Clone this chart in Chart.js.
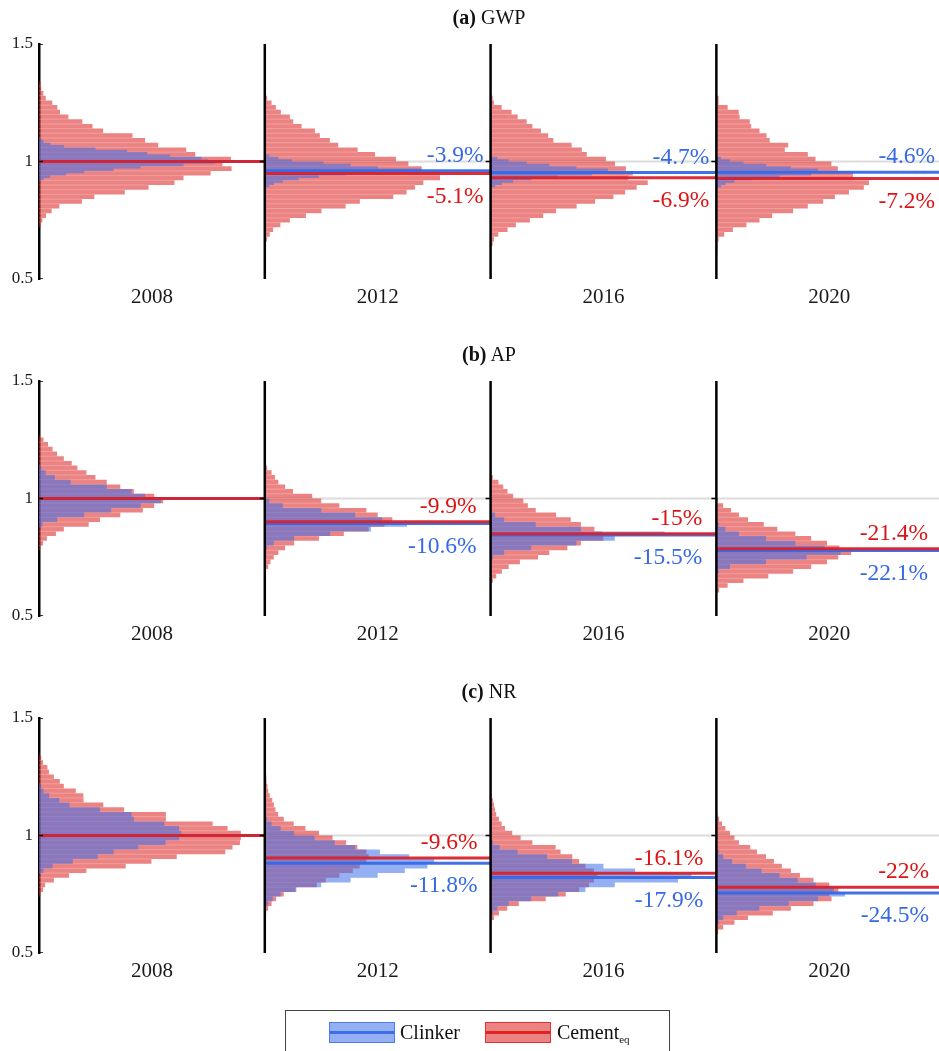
<!DOCTYPE html>
<html>
<head>
<meta charset="utf-8">
<title>Clinker vs cement histograms</title>
<script src="https://cdn.jsdelivr.net/npm/chart.js@4.4.1/dist/chart.umd.min.js"></script>
<style>
  body { margin: 0; background: #fff; font-family: "Liberation Serif", "Times New Roman", serif; color: #111; }
  #page { position: relative; width: 939px; height: 1051px; overflow: hidden; }
  .panel { position: absolute; left: 0; width: 939px; height: 337px; }
  .panel canvas { position: absolute; left: 0; top: 0; }
  .ttl { position: absolute; left: 39px; width: 900px; top: 5px; text-align: center; font-size: 20px; line-height: 24px; }
  #legend { position: absolute; left: 285px; top: 1010px; width: 385px; height: 60px; border: 1px solid #444; box-sizing: border-box; }
  .sw { position: absolute; top: 11px; width: 66px; height: 21px; box-sizing: border-box; }
  .sw i { position: absolute; left: 0; right: 0; top: 8px; height: 3px; }
  .sw-blue { left: 43px; background: rgba(61, 110, 232, 0.55); border: 1px solid rgba(61, 110, 232, 0.8); }
  .sw-blue i { background: rgb(60, 110, 235); }
  .sw-red { left: 199px; background: rgba(220, 30, 30, 0.55); border: 1px solid rgba(220, 30, 30, 0.8); }
  .sw-red i { background: rgb(225, 35, 35); }
  .lbl { position: absolute; top: 9px; font-size: 20px; line-height: 24px; }
  .lbl sub { font-size: 11px; vertical-align: -4px; }
</style>
</head>
<body>
<div id="page">
  <div class="panel" style="top:0px"><canvas id="gwp" width="939" height="337"></canvas><div class="ttl"><b>(a)</b> GWP</div></div>
  <div class="panel" style="top:337px"><canvas id="ap" width="939" height="337"></canvas><div class="ttl"><b>(b)</b> AP</div></div>
  <div class="panel" style="top:674px"><canvas id="nr" width="939" height="337"></canvas><div class="ttl"><b>(c)</b> NR</div></div>
  <div id="legend">
    <span class="sw sw-blue"><i></i></span><span class="lbl" style="left:114px">Clinker</span>
    <span class="sw sw-red"><i></i></span><span class="lbl" style="left:271px">Cement<sub>eq</sub></span>
  </div>
</div>
<script>
(function () {
    "use strict";

    const years = ['2008', '2012', '2016', '2020'];
    const yearPos = [0.5, 1.5, 2.5, 3.5];

    // relative change of the median vs 2008, in %
    const gwpClinkerPct = [0, -3.9, -4.7, -4.6];
    const gwpCementPct = [0, -5.1, -6.9, -7.2];
    const apClinkerPct = [0, -10.6, -15.5, -22.1];
    const apCementPct = [0, -9.9, -15, -21.4];
    const nrClinkerPct = [0, -11.8, -17.9, -24.5];
    const nrCementPct = [0, -9.6, -16.1, -22];

    // histograms: top edge of the first bin, then bar lengths from the top bin downwards
    // (bar length as a share of one year column)
    const gwpCementTop = [1.34, 1.28, 1.28, 1.28];
    const gwpCementHist = [
        [0.008,0.010,0.019,0.030,0.059,0.081,0.093,0.130,0.192,0.237,0.284,0.414,0.470,0.528,0.652,0.692,0.850,0.812,0.853,0.760,0.640,0.600,0.485,0.380,0.245,0.190,0.090,0.056,0.031,0.015,0.008],
        [0.010,0.030,0.049,0.071,0.111,0.126,0.163,0.222,0.244,0.288,0.325,0.411,0.488,0.581,0.636,0.695,0.776,0.776,0.702,0.665,0.628,0.569,0.421,0.358,0.251,0.182,0.111,0.069,0.037,0.022,0.010],
        [0.009,0.015,0.049,0.093,0.120,0.160,0.185,0.223,0.255,0.278,0.359,0.404,0.426,0.511,0.551,0.599,0.630,0.610,0.696,0.647,0.596,0.544,0.463,0.381,0.290,0.233,0.174,0.112,0.075,0.034,0.015,0.009],
        [0.010,0.010,0.050,0.099,0.103,0.148,0.154,0.191,0.222,0.236,0.318,0.303,0.405,0.439,0.509,0.538,0.605,0.605,0.676,0.653,0.587,0.525,0.473,0.405,0.340,0.247,0.191,0.133,0.073,0.035,0.010,0.006,0.005,0.003]
    ];
    const gwpClinkerTop = [1.10, 1.03, 1.02, 1.02];
    const gwpClinkerHist = [
        [0.01,0.02,0.05,0.11,0.25,0.39,0.48,0.58,0.72,0.75,0.78,0.64,0.45,0.33,0.20,0.12,0.05,0.02],
        [0.02,0.06,0.12,0.26,0.38,0.50,0.69,0.52,0.36,0.24,0.15,0.08,0.04,0.02],
        [0.03,0.08,0.16,0.26,0.38,0.52,0.60,0.45,0.30,0.18,0.10,0.05,0.02],
        [0.02,0.06,0.12,0.22,0.33,0.45,0.55,0.42,0.28,0.16,0.08,0.04,0.02]
    ];

    const apCementTop = [1.28, 1.14, 1.10, 1.00];
    const apCementHist = [
        [0.004,0.02,0.04,0.06,0.08,0.11,0.145,0.17,0.21,0.25,0.30,0.36,0.42,0.51,0.55,0.51,0.46,0.36,0.27,0.22,0.11,0.075,0.035,0.018,0.005],
        [0.01,0.03,0.045,0.06,0.09,0.125,0.21,0.25,0.33,0.45,0.50,0.565,0.53,0.46,0.35,0.24,0.13,0.09,0.06,0.04,0.025,0.015],
        [0.01,0.035,0.056,0.075,0.10,0.145,0.165,0.20,0.29,0.355,0.40,0.46,0.495,0.50,0.40,0.34,0.26,0.21,0.13,0.08,0.05,0.025,0.01],
        [0.005,0.03,0.065,0.10,0.14,0.21,0.27,0.35,0.42,0.49,0.545,0.597,0.54,0.49,0.42,0.34,0.23,0.12,0.05,0.012]
    ];
    const apClinkerTop = [1.14, 1.00, 0.94, 0.90];
    const apClinkerHist = [
        [0.01,0.03,0.07,0.14,0.30,0.41,0.47,0.54,0.45,0.32,0.20,0.08,0.015],
        [0.02,0.08,0.25,0.40,0.52,0.63,0.47,0.29,0.13,0.04,0.01],
        [0.02,0.06,0.20,0.40,0.77,0.55,0.38,0.18,0.06,0.01],
        [0.01,0.04,0.10,0.22,0.35,0.48,0.55,0.40,0.22,0.06,0.01]
    ];

    const nrCementTop = [1.36, 1.26, 1.18, 1.10];
    const nrCementHist = [
        [0.003,0.01,0.018,0.037,0.044,0.066,0.092,0.11,0.163,0.196,0.199,0.285,0.377,0.562,0.562,0.769,0.835,0.894,0.894,0.89,0.857,0.825,0.61,0.498,0.384,0.21,0.133,0.066,0.027,0.018,0.007],
        [0.006,0.009,0.012,0.015,0.022,0.033,0.04,0.047,0.059,0.084,0.128,0.18,0.24,0.30,0.36,0.41,0.45,0.46,0.45,0.42,0.39,0.33,0.27,0.23,0.136,0.084,0.05,0.03,0.015,0.006],
        [0.004,0.01,0.015,0.02,0.025,0.037,0.049,0.064,0.096,0.133,0.185,0.288,0.31,0.362,0.392,0.42,0.458,0.473,0.458,0.436,0.392,0.333,0.244,0.125,0.074,0.037,0.015,0.004],
        [0.005,0.012,0.025,0.04,0.06,0.08,0.10,0.15,0.18,0.22,0.255,0.29,0.33,0.37,0.43,0.50,0.54,0.50,0.51,0.43,0.33,0.25,0.14,0.08,0.03,0.008]
    ];
    const nrClinkerTop = [1.22, 1.08, 0.98, 0.94];
    const nrClinkerHist = [
        [0.008,0.02,0.045,0.09,0.135,0.27,0.41,0.42,0.555,0.62,0.63,0.62,0.56,0.44,0.33,0.26,0.15,0.06,0.02],
        [0.01,0.03,0.07,0.13,0.22,0.31,0.40,0.51,0.64,0.75,0.72,0.62,0.50,0.38,0.25,0.14,0.07,0.035,0.015,0.005],
        [0.01,0.04,0.12,0.25,0.36,0.50,0.64,0.89,0.83,0.55,0.42,0.30,0.18,0.08,0.03,0.01],
        [0.01,0.03,0.07,0.13,0.20,0.28,0.36,0.44,0.52,0.57,0.45,0.32,0.19,0.09,0.03,0.01]
    ];

    const BLUE_FILL = 'rgba(61, 110, 232, 0.55)';
    const BLUE_LINE = 'rgba(55, 105, 232, 0.95)';
    const BLUE_TEXT = 'rgb(55, 105, 230)';
    const RED_FILL = 'rgba(220, 30, 30, 0.55)';
    const RED_LINE = 'rgba(215, 35, 45, 0.95)';
    const RED_TEXT = 'rgb(220, 20, 20)';
    const BIN_EDGE = 'rgba(255, 255, 255, 0.28)';

    Chart.defaults.font.family = "'Liberation Serif', 'Times New Roman', serif";
    Chart.defaults.color = '#1a1a1a';

    // staircase outline of a horizontal histogram that starts at column `col`
    function histOutline(col, top, bin, widths) {
        const pts = [{x: col, y: top}];
        widths.forEach((w, i) => {
            pts.push({x: col + w, y: top - i * bin}, {x: col + w, y: top - (i + 1) * bin});
        });
        pts.push({x: col, y: top - widths.length * bin}, {x: col, y: top});
        return pts;
    }

    // thin light lines between neighbouring bins
    function binEdges(col, top, bin, widths) {
        const pts = [];
        for (let i = 1; i < widths.length; i++) {
            const yv = top - i * bin;
            pts.push({x: col, y: yv}, {x: col + Math.min(widths[i - 1], widths[i]), y: yv}, {x: null, y: null});
        }
        return pts;
    }

    function segment(x0, y0, x1, y1, color, width, order) {
        return {
            data: [{x: x0, y: y0}, {x: x1, y: y1}],
            showLine: true, borderColor: color, borderWidth: width,
            pointRadius: 0, fill: false, order: order
        };
    }

    // percentage labels at the right end of every column after 2008
    const pctLabels = {
        id: 'pctLabels',
        afterDatasetsDraw(chart, args, opts) {
            const {ctx, scales: {x, y}} = chart;
            ctx.save();
            ctx.font = "23.5px 'Liberation Serif', 'Times New Roman', serif";
            ctx.textAlign = 'right';
            ctx.textBaseline = 'middle';
            opts.clinker.forEach((pc, i) => {
                if (i === 0) return;
                const pr = opts.cement[i];
                const right = x.getPixelForValue(i + 1) - opts.gap;
                const yc = y.getPixelForValue(1 + pc / 100);
                const yr = y.getPixelForValue(1 + pr / 100);
                const clinkerUp = pc > pr;
                ctx.fillStyle = BLUE_TEXT;
                ctx.fillText(pc + '%', right, clinkerUp ? yc - 15 : yc + 23);
                ctx.fillStyle = RED_TEXT;
                ctx.fillText(pr + '%', right, clinkerUp ? yr + 23 : yr - 15);
            });
            ctx.restore();
        }
    };

    function makePanel(id, p) {
        const datasets = [];
        datasets.push(segment(1, 1, 4, 1, '#dcdcdc', 2, 100));
        years.forEach((yr, i) => {
            datasets.push({
                label: 'Cement ' + yr,
                data: histOutline(i, p.cementTop[i], p.cementBin, p.cementHist[i]),
                showLine: true, fill: 'shape', backgroundColor: RED_FILL,
                borderWidth: 0, pointRadius: 0, order: 90
            });
            datasets.push({
                data: binEdges(i, p.cementTop[i], p.cementBin, p.cementHist[i]),
                showLine: true, fill: false, borderColor: BIN_EDGE,
                borderWidth: 0.8, pointRadius: 0, order: 89
            });
            datasets.push({
                label: 'Clinker ' + yr,
                data: histOutline(i, p.clinkerTop[i], p.clinkerBin, p.clinkerHist[i]),
                showLine: true, fill: 'shape', backgroundColor: BLUE_FILL,
                borderWidth: 0, pointRadius: 0, order: 80
            });
            const mB = 1 + p.clinkerPct[i] / 100;
            const mR = 1 + p.cementPct[i] / 100;
            datasets.push(segment(i, mB, i + 1, mB, BLUE_LINE, 3, 20));
            datasets.push(segment(i, mR, i + 1, mR, RED_LINE, 3, 10));
            if (i > 0) {
                datasets.push(segment(i, 0.5, i, 1.5, '#000', 2.5, 5));
                datasets.push(segment(i - 0.022, 1, i, 1, '#000', 1.5, 4));
            }
        });
        [0.5, 1, 1.5].forEach(v => datasets.push(segment(0, v, 0.018, v, '#000', 1.5, 4)));

        return new Chart(document.getElementById(id), {
            type: 'scatter',
            data: {datasets: datasets},
            options: {
                responsive: false,
                animation: false,
                events: [],
                devicePixelRatio: 1,
                layout: {padding: {top: 44, left: 0, right: 0, bottom: 0}},
                plugins: {
                    legend: {display: false},
                    tooltip: {enabled: false},
                    pctLabels: {clinker: p.clinkerPct, cement: p.cementPct, gap: p.gap}
                },
                scales: {
                    x: {
                        type: 'linear', min: 0, max: 3.986,
                        grid: {display: false, drawTicks: false},
                        border: {display: false},
                        afterBuildTicks: s => { s.ticks = yearPos.map(v => ({value: v})); },
                        afterFit: s => { s.height = 58; },
                        ticks: {
                            autoSkip: false, maxRotation: 0, padding: 6,
                            font: {size: 21}, color: '#1a1a1a',
                            callback: (v, i) => years[i]
                        }
                    },
                    y: {
                        type: 'linear', min: 0.5, max: 1.5,
                        grid: {display: false, drawTicks: false},
                        border: {display: true, color: '#000', width: 2.5},
                        afterFit: s => { s.width = 39; },
                        ticks: {
                            stepSize: 0.5, padding: 6, font: {size: 17}, color: '#1a1a1a',
                            callback: v => String(v)
                        }
                    }
                }
            },
            plugins: [pctLabels]
        });
    }

    makePanel('gwp', {
        cementTop: gwpCementTop, cementHist: gwpCementHist, cementBin: 0.02,
        clinkerTop: gwpClinkerTop, clinkerHist: gwpClinkerHist, clinkerBin: 0.01,
        clinkerPct: gwpClinkerPct, cementPct: gwpCementPct, gap: 7
    });
    makePanel('ap', {
        cementTop: apCementTop, cementHist: apCementHist, cementBin: 0.02,
        clinkerTop: apClinkerTop, clinkerHist: apClinkerHist, clinkerBin: 0.02,
        clinkerPct: apClinkerPct, cementPct: apCementPct, gap: 14
    });
    makePanel('nr', {
        cementTop: nrCementTop, cementHist: nrCementHist, cementBin: 0.02,
        clinkerTop: nrClinkerTop, clinkerHist: nrClinkerHist, clinkerBin: 0.02,
        clinkerPct: nrClinkerPct, cementPct: nrCementPct, gap: 13
    });
})();
</script>
</body>
</html>
